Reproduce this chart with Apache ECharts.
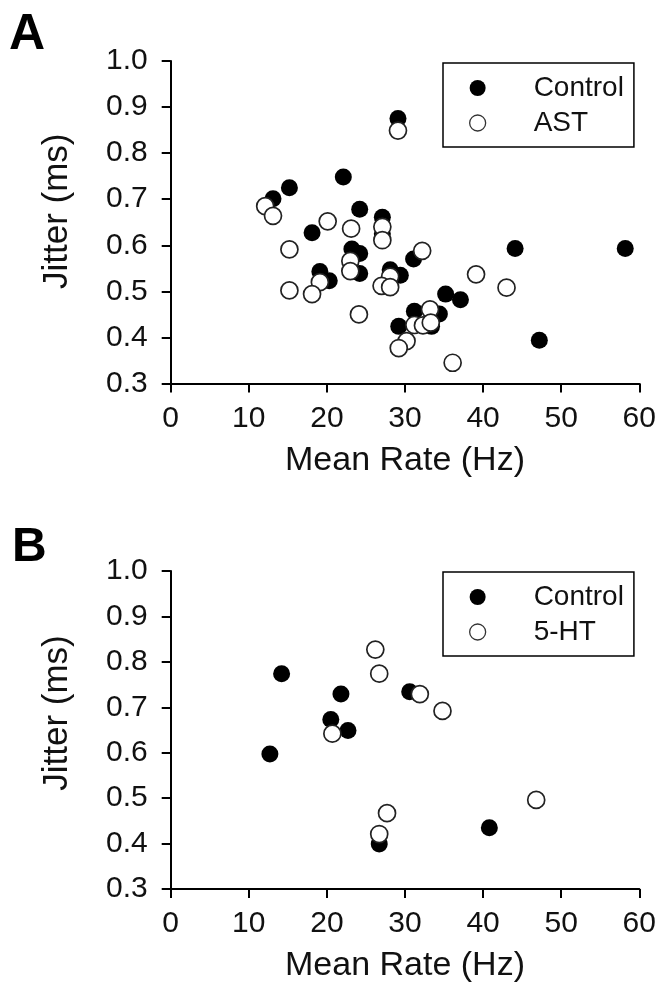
<!DOCTYPE html>
<html>
<head>
<meta charset="utf-8">
<script src="https://cdn.jsdelivr.net/npm/echarts@6/dist/echarts.min.js"></script>
<style>
html,body{margin:0;padding:0;background:#fff;}
#chart{width:660px;height:984px;}
</style>
</head>
<body>
<div id="chart"></div>
<script>
// ---- data (Mean Rate Hz, Jitter ms) ----
const xTicks = [0, 10, 20, 30, 40, 50, 60];
const yTicks = [0.3, 0.4, 0.5, 0.6, 0.7, 0.8, 0.9, 1.0];

const controlA = [
  [29.1,0.875],[22.1,0.748],[15.2,0.725],[13.1,0.701],[24.2,0.678],[27.1,0.661],
  [27.1,0.625],[18.1,0.627],[23.2,0.592],[24.2,0.582],[31.1,0.570],[44.1,0.593],
  [58.2,0.593],[19.1,0.543],[20.3,0.523],[24.2,0.539],[28.1,0.547],[29.4,0.535],
  [35.2,0.494],[37.1,0.482],[31.2,0.457],[34.4,0.451],[33.4,0.424],[29.2,0.424],
  [47.2,0.394]
];
const astA = [
  [29.1,0.849],[12.1,0.685],[13.1,0.664],[20.1,0.652],[23.1,0.636],[27.1,0.640],
  [27.1,0.611],[15.2,0.591],[23.0,0.566],[23.0,0.544],[32.2,0.588],[39.1,0.537],
  [19.1,0.520],[15.2,0.502],[18.1,0.494],[28.1,0.532],[27.0,0.512],[28.1,0.509],
  [43.0,0.508],[24.1,0.450],[33.2,0.461],[31.2,0.427],[32.3,0.426],[33.3,0.432],
  [30.2,0.392],[29.2,0.377],[36.1,0.345]
];
const controlB = [
  [14.2,0.774],[21.8,0.729],[20.5,0.673],[22.7,0.649],[12.7,0.597],[26.7,0.399],
  [30.6,0.734],[40.8,0.435]
];
const htB = [
  [26.2,0.827],[26.7,0.774],[20.7,0.642],[27.7,0.467],[26.7,0.421],[31.9,0.729],
  [34.8,0.692],[46.8,0.496]
];
const panelLabels = ['A', 'B'];
const legendNamesA = ['Control', 'AST'];
const legendNamesB = ['Control', '5-HT'];

// ---- chart ----
const FONT = '"Liberation Sans", Arial, Helvetica, sans-serif';
const chart = echarts.init(document.getElementById('chart'), null, {renderer: 'canvas'});

function xAxisCfg(gi) {
  return {
    gridIndex: gi, type: 'value', min: xTicks[0], max: xTicks[xTicks.length - 1], interval: 10,
    name: 'Mean Rate (Hz)', nameLocation: 'middle', nameGap: 60,
    nameTextStyle: {fontFamily: FONT, fontSize: 34, color: '#111'},
    axisLine: {show: true, onZero: false, lineStyle: {color: '#000', width: 2}},
    axisTick: {show: true, inside: false, length: 9, lineStyle: {color: '#000', width: 2}},
    axisLabel: {fontFamily: FONT, fontSize: 30, color: '#111', margin: 20},
    splitLine: {show: false}
  };
}
function yAxisCfg(gi, pad) {
  return {
    gridIndex: gi, type: 'value', min: yTicks[0], max: yTicks[yTicks.length - 1], interval: 0.1,
    name: 'Jitter (ms)', nameLocation: 'middle', nameGap: 96, nameRotate: 90,
    nameTextStyle: {fontFamily: FONT, fontSize: 35, color: '#111', padding: [0, 0, 0, pad]},
    axisLine: {show: true, onZero: false, lineStyle: {color: '#000', width: 2}},
    axisTick: {show: true, inside: false, length: 9, lineStyle: {color: '#000', width: 2}},
    axisLabel: {fontFamily: FONT, fontSize: 30, color: '#111', margin: 23,
      formatter: v => v.toFixed(1)},
    splitLine: {show: false}
  };
}
const filledStyle = {color: '#000', borderColor: '#000', borderWidth: 0, opacity: 1};
const openStyle = {color: '#fff', borderColor: '#222', borderWidth: 1.7, opacity: 1};

function legendCfg(top, names) {
  return {
    orient: 'vertical', left: 443, top: top,
    padding: [10, 10, 9, 26], itemGap: 5, itemWidth: 30, itemHeight: 16,
    borderColor: '#000', borderWidth: 1.5, backgroundColor: '#fff',
    selectedMode: false,
    textStyle: {fontFamily: FONT, fontSize: 28, lineHeight: 30, color: '#111', padding: [0, 0, 0, 36]},
    data: [
      {name: names[0], icon: 'circle', itemStyle: filledStyle},
      {name: names[1], icon: 'circle', itemStyle: {color: '#fff', borderColor: '#333', borderWidth: 1.3, opacity: 1}}
    ]
  };
}

const option = {
  backgroundColor: '#fff',
  animation: false,
  title: [
    {text: panelLabels[0], left: 9, top: 10, padding: 0,
     textStyle: {fontFamily: FONT, fontSize: 50, fontWeight: 'bold', color: '#000'}},
    {text: panelLabels[1], left: 12, top: 524, padding: 0,
     textStyle: {fontFamily: FONT, fontSize: 48, fontWeight: 'bold', color: '#000'}}
  ],
  grid: [
    {left: 170.7, right: 20.7, top: 61, height: 322.5},
    {left: 170.7, right: 20.7, top: 571, height: 323}
  ],
  xAxis: [xAxisCfg(0), xAxisCfg(1)],
  yAxis: [yAxisCfg(0, 22), yAxisCfg(1, 34)],
  legend: [legendCfg(63, legendNamesA), legendCfg(572, legendNamesB)],
  series: [
    {name: 'Control', type: 'scatter', xAxisIndex: 0, yAxisIndex: 0, data: controlA,
     symbol: 'circle', symbolSize: 17, itemStyle: filledStyle, z: 2},
    {name: 'AST', type: 'scatter', xAxisIndex: 0, yAxisIndex: 0, data: astA,
     symbol: 'circle', symbolSize: 17, itemStyle: openStyle, z: 3},
    {name: 'Control', type: 'scatter', xAxisIndex: 1, yAxisIndex: 1, data: controlB,
     symbol: 'circle', symbolSize: 17, itemStyle: filledStyle, z: 2},
    {name: '5-HT', type: 'scatter', xAxisIndex: 1, yAxisIndex: 1, data: htB,
     symbol: 'circle', symbolSize: 17, itemStyle: openStyle, z: 3}
  ]
};
chart.setOption(option);
</script>
</body>
</html>
